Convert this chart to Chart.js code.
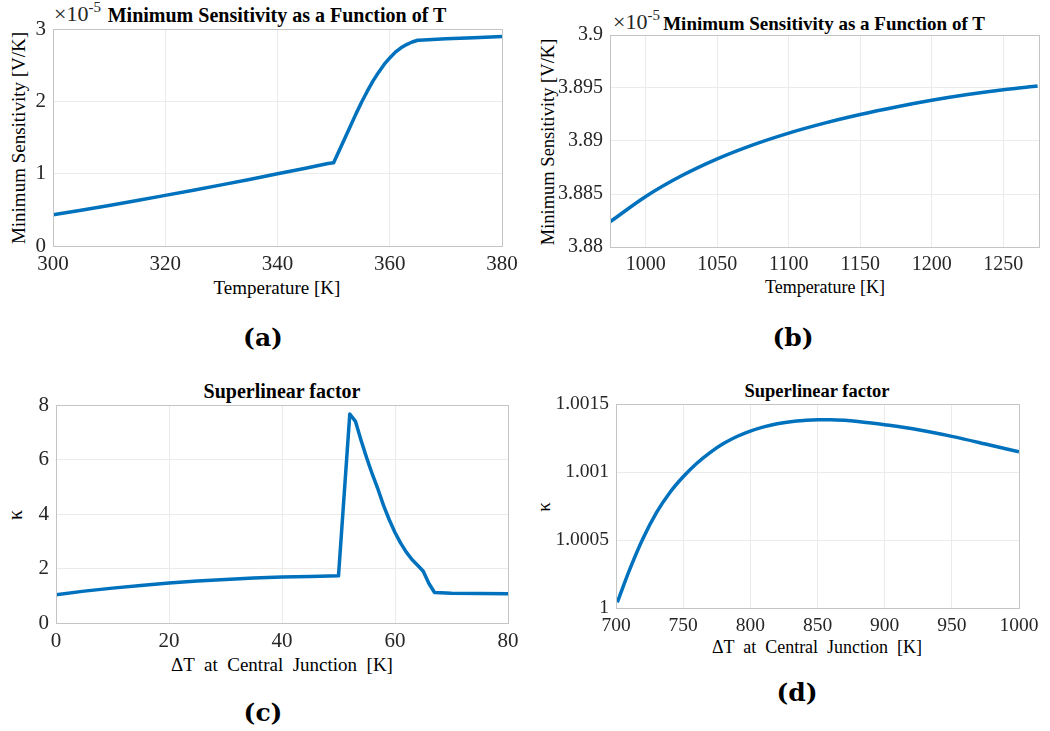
<!DOCTYPE html>
<html><head><meta charset="utf-8">
<script src="https://cdn.jsdelivr.net/npm/chart.js@4.4.1/dist/chart.umd.min.js"></script>
<style>
html,body{margin:0;padding:0;background:#fff;overflow:hidden;width:1050px;height:731px;position:relative;}
canvas{position:absolute;}
.t{position:absolute;white-space:pre;font-family:"Liberation Serif","Times New Roman",serif;color:#000;transform:translate(-50%,-50%);line-height:1;}
.b{font-weight:bold;}
.r{transform:translate(-50%,-50%) rotate(-90deg);}
.mul{position:absolute;white-space:pre;font-family:"Liberation Serif",serif;color:#262626;line-height:1;font-size:22px;}
.mul span{font-size:15px;position:relative;top:-9px;}
.lab{position:absolute;font-family:"DejaVu Serif",serif;font-weight:bold;transform:translate(-50%,-50%);line-height:1;color:#000;}
</style></head><body>
<div class="mul" style="left:54px;top:3px;">×10<span>-5</span></div>
<div class="t b" style="left:277px;top:15px;font-size:20px;">Minimum Sensitivity as a Function of T</div>
<div class="t" style="left:277px;top:287px;font-size:19px;">Temperature [K]</div>
<div class="t r" style="left:18px;top:138px;font-size:19px;">Minimum Sensitivity [V/K]</div>
<div class="lab" style="left:263px;top:337px;font-size:25px;">(a)</div>

<div class="mul" style="left:613px;top:11px;">×10<span>-5</span></div>
<div class="t b" style="left:824px;top:23px;font-size:19px;">Minimum Sensitivity as a Function of T</div>
<div class="t" style="left:825px;top:287px;font-size:18px;">Temperature [K]</div>
<div class="t r" style="left:548px;top:142px;font-size:18.5px;">Minimum Sensitivity [V/K]</div>
<div class="lab" style="left:793px;top:337px;font-size:25px;">(b)</div>

<div class="t b" style="left:282px;top:391px;font-size:20px;">Superlinear factor</div>
<div class="t" style="left:282px;top:664px;font-size:19px;">ΔT  at  Central  Junction  [K]</div>
<div class="t r" style="left:15px;top:515px;font-size:20px;">κ</div>
<div class="lab" style="left:263px;top:712px;font-size:25px;">(c)</div>

<div class="t b" style="left:817px;top:391px;font-size:18.5px;">Superlinear factor</div>
<div class="t" style="left:817px;top:647px;font-size:18px;">ΔT  at  Central  Junction  [K]</div>
<div class="t r" style="left:543px;top:507px;font-size:19px;">κ</div>
<div class="lab" style="left:797px;top:692px;font-size:25px;">(d)</div>

<canvas id="ca"></canvas>
<canvas id="cb"></canvas>
<canvas id="cc"></canvas>
<canvas id="cd"></canvas>
<script>
// ---- Panel (a): Minimum sensitivity (x1e-5 V/K) vs temperature
const tempA = [300,305,310,315,320,325,330,335,340,345,349,350,351,352,353,354,355,356,357,358,359,360,361,362,363,364,365,366,370,375,380];
const sensA = [0.43,0.495,0.56,0.63,0.70,0.77,0.845,0.92,1.00,1.075,1.14,1.15,1.32,1.49,1.66,1.83,1.99,2.14,2.28,2.40,2.51,2.60,2.68,2.74,2.785,2.82,2.845,2.849,2.865,2.88,2.895];
const xTicksA = [300,320,340,360,380];
const xLabelsA = ['300','320','340','360','380'];
const yTicksA = [0,1,2,3];
const yLabelsA = ['0','1','2','3'];

// ---- Panel (b)
const tempB = [975,1000,1025,1050,1075,1100,1125,1150,1175,1200,1225,1250,1274];
const sensB = [3.88237,3.88477,3.88672,3.88832,3.88964,3.89075,3.89169,3.89250,3.89321,3.89384,3.89438,3.89484,3.89519];
const xTicksB = [1000,1050,1100,1150,1200,1250];
const xLabelsB = ['1000','1050','1100','1150','1200','1250'];
const yTicksB = [3.88,3.885,3.89,3.895,3.9];
const yLabelsB = ['3.88','3.885','3.89','3.895','3.9'];

// ---- Panel (c): superlinear factor vs dT
const dtC = [0,5,10,15,20,25,30,35,40,45,50,52,53,54,55,56,57,58,59,60,61,62,63,64,65,66,67,70,75,80];
const kappaC = [1.04,1.17,1.28,1.38,1.47,1.54,1.60,1.65,1.69,1.71,1.73,7.67,7.40,6.70,6.05,5.45,4.90,4.30,3.78,3.32,2.93,2.60,2.33,2.12,1.90,1.45,1.12,1.09,1.08,1.07];
const xTicksC = [0,20,40,60,80];
const xLabelsC = ['0','20','40','60','80'];
const yTicksC = [0,2,4,6,8];
const yLabelsC = ['0','2','4','6','8'];

// ---- Panel (d)
const dtD = [701,710,720,730,740,750,760,770,780,790,800,810,820,830,840,850,860,870,880,890,900,925,950,975,1000];
const kappaD = [1.000042,1.000279,1.000510,1.000700,1.000848,1.000965,1.001063,1.001143,1.001209,1.001261,1.001301,1.001332,1.001355,1.001370,1.001379,1.001384,1.001384,1.001380,1.001372,1.001361,1.001348,1.001311,1.001262,1.001206,1.001148];
const xTicksD = [700,750,800,850,900,950,1000];
const xLabelsD = ['700','750','800','850','900','950','1000'];
const yTicksD = [1,1.0005,1.001,1.0015];
const yLabelsD = ['1','1.0005','1.001','1.0015'];

Chart.defaults.font.family = 'Liberation Serif';
const L = 80, R = 40, T = 20, B = 50;
const charts = [];
const boxPlugin = {
  id: 'box',
  afterDatasetsDraw(chart) {
    const {ctx, chartArea: a} = chart;
    ctx.save();
    ctx.strokeStyle = '#c4c4c4';
    ctx.lineWidth = 1;
    ctx.strokeRect(Math.round(a.left) + 0.5, Math.round(a.top) + 0.5, Math.round(a.right - a.left), Math.round(a.bottom - a.top));
    ctx.restore();
  }
};

function panel(id, area, xs, ys, xr, yr, xT, xL, yT, yL, fs, smooth) {
  const c = document.getElementById(id);
  const w = area.r - area.l + L + R, h = area.b - area.t + T + B;
  c.width = w; c.height = h;
  c.style.width = w + 'px'; c.style.height = h + 'px';
  c.style.left = (area.l - L) + 'px'; c.style.top = (area.t - T) + 'px';
  const font = {family: 'Liberation Serif', size: fs};
  charts.push(new Chart(c, {
    type: 'line',
    data: {datasets: [{
      data: xs.map((x, i) => ({x: x, y: ys[i]})),
      borderColor: '#0072BD', borderWidth: 3.5, pointRadius: 0,
      cubicInterpolationMode: smooth ? 'monotone' : 'default', tension: 0,
      borderJoinStyle: 'round', fill: false
    }]},
    options: {
      responsive: false, animation: false, events: [],
      layout: {padding: {left: 0, right: R, top: T, bottom: 0}},
      plugins: {legend: {display: false}, tooltip: {enabled: false}, title: {display: false}},
      scales: {
        x: {
          type: 'linear', min: xr[0], max: xr[1],
          afterBuildTicks: s => { s.ticks = xT.map(v => ({value: v})); },
          afterFit: s => { s.height = B; },
          grid: {color: '#ebebeb', lineWidth: 1, drawTicks: false},
          border: {display: false},
          ticks: {font: font, color: '#262626', padding: 6, maxRotation: 0, autoSkip: false,
                  callback: (v, i) => xL[i]}
        },
        y: {
          type: 'linear', min: yr[0], max: yr[1],
          afterBuildTicks: s => { s.ticks = yT.map(v => ({value: v})); },
          afterFit: s => { s.width = L; },
          grid: {color: '#ebebeb', lineWidth: 1, drawTicks: false},
          border: {display: false},
          ticks: {font: font, color: '#262626', padding: 7, autoSkip: false,
                  callback: (v, i) => yL[i]}
        }
      }
    },
    plugins: [boxPlugin]
  }));
}

document.body.offsetHeight;
panel('ca', {l: 53, t: 29, r: 502, b: 246}, tempA, sensA, [300, 380], [0, 3], xTicksA, xLabelsA, yTicksA, yLabelsA, 21, false);
panel('cb', {l: 610, t: 35, r: 1039, b: 247}, tempB, sensB, [975, 1275], [3.88, 3.9], xTicksB, xLabelsB, yTicksB, yLabelsB, 20, true);
panel('cc', {l: 56, t: 405, r: 508, b: 623}, dtC, kappaC, [0, 80], [0, 8], xTicksC, xLabelsC, yTicksC, yLabelsC, 21, false);
panel('cd', {l: 616, t: 404, r: 1019, b: 608}, dtD, kappaD, [700, 1000], [1, 1.0015], xTicksD, xLabelsD, yTicksD, yLabelsD, 19.5, true);
if (document.fonts && document.fonts.load) {
  document.fonts.load('20px "Liberation Serif"').then(() => charts.forEach(ch => ch.update('none')));
}
</script>
</body></html>
